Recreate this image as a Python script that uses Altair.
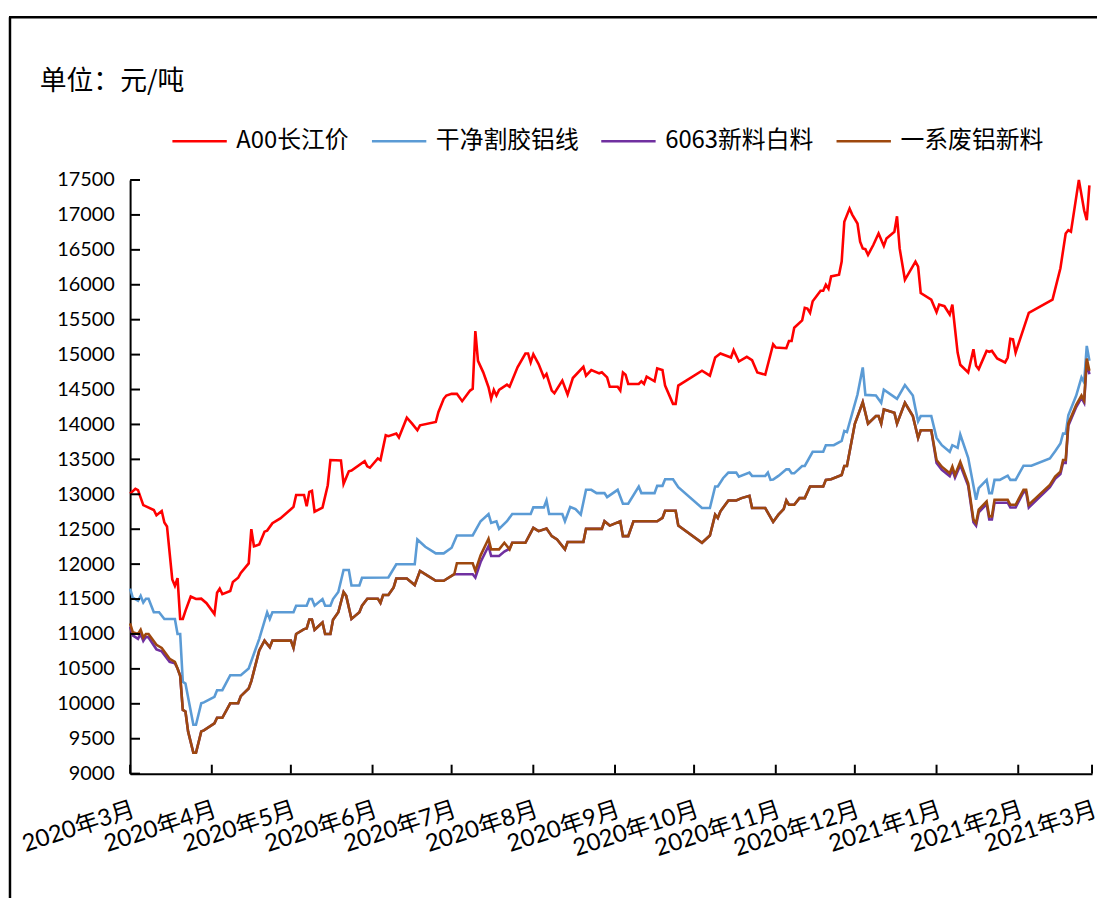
import altair as alt
import pandas as pd

BASE = pd.Timestamp("2020-03-01")  # day offsets below are counted from this date

series_names = ["A00长江价", "干净割胶铝线", "6063新料白料", "一系废铝新料"]
series_colors = ["#FF0000", "#5B9BD5", "#7030A0", "#9E480E"]

red_days = [0, 2, 3, 5, 9, 10, 12, 13, 14, 16, 17, 18, 19, 20, 21, 23, 25, 27, 29, 32, 33, 34, 35, 38, 39, 41, 42,
            45, 46, 47, 49, 51, 52, 54, 57, 61, 62, 63, 66, 67, 68, 69, 70, 73, 75, 76, 80, 81, 83, 84, 89, 90, 91,
            94, 95, 97, 98, 101, 102, 105, 107, 109, 110, 116, 117, 119, 120, 122, 124, 126, 129, 130, 131, 132,
            134, 136, 137, 138, 139, 140, 143, 144, 147, 150, 151, 152, 153, 155, 157, 158, 160, 161, 164, 166,
            168, 172, 173, 175, 178, 179, 181, 182, 185, 186, 187, 188, 189, 193, 194, 195, 196, 199, 200, 202,
            203, 206, 207, 208, 217, 220, 222, 224, 228, 229, 231, 234, 236, 238, 241, 244, 245, 249, 250, 251,
            252, 255, 256, 257, 258, 259, 262, 263, 264, 265, 266, 269, 270, 271, 273, 274, 276, 277, 278, 279,
            280, 282, 284, 286, 287, 290, 291, 292, 294, 298, 299, 300, 304, 306, 307, 309, 311, 312, 314, 315,
            318, 320, 321, 322, 325, 326, 327, 329, 332, 333, 334, 335, 336, 341, 350, 353, 355, 356, 357, 360,
            362, 363, 364]
red_vals = [13010, 13080, 13060, 12845, 12775, 12700, 12760, 12595, 12540, 11780, 11690, 11800, 11215, 11215, 11330,
            11535, 11500, 11505, 11440, 11285, 11590, 11650, 11570, 11615, 11745, 11805, 11875,
            12010, 12500, 12255, 12280, 12465, 12480, 12585, 12655, 12785, 12820, 12990, 12990, 12830, 13035, 13050,
            12750, 12810, 13130, 13490, 13485, 13150, 13330, 13340, 13475, 13400, 13380,
            13514, 13490, 13846, 13832, 13870, 13813, 14097, 14012, 13917, 13988, 14035, 14178, 14367, 14414, 14438,
            14438, 14333, 14485, 14510, 15338, 14911,
            14746, 14533, 14367, 14494, 14414, 14494, 14570, 14540, 14817, 15016, 15016, 14888, 15006, 14864, 14675,
            14722, 14485, 14447, 14627, 14428,
            14665, 14826, 14698, 14779, 14732, 14746, 14674, 14540, 14540, 14485, 14745, 14712, 14580, 14580, 14618,
            14580, 14684, 14618, 14802, 14779,
            14556, 14295, 14295, 14556, 14769, 14698, 14958, 15015, 14958, 15063, 14901, 14968, 14920, 14745, 14712,
            15148, 15101, 15091, 15195, 15195,
            15385, 15489, 15669, 15660, 15598, 15764, 15915, 15915, 16000, 15943, 16119, 16143, 16332, 16901, 17090,
            17005, 16877, 16616, 16521, 16510,
            16427, 16569, 16735, 16555, 16664, 16758, 16981, 16521, 16071, 16332, 16261, 15882, 15787, 15607, 15716,
            15693, 15574, 15716, 15029, 14854,
            14745, 15076, 14840, 14792, 15053, 15040, 15053, 14944, 14887, 14958, 15228, 15220, 15029, 15598, 15787,
            16237, 16735, 16782, 16760, 17502,
            17066, 16924, 17422]

blue_days = [0, 1, 3, 4, 5, 6, 7, 9, 11, 13, 17, 18, 19, 20, 21, 24, 25, 27, 28, 32, 33, 35, 38, 42, 45, 49, 52, 53,
             54, 62, 63, 67, 68, 69, 70, 73, 74, 76, 77, 79, 81, 83, 84, 87, 88, 98, 101, 108, 109, 112, 116, 119,
             122, 124, 130, 133, 136, 137, 139, 140, 143, 145, 152, 153, 157, 158, 159, 164, 165, 167, 169, 171,
             173, 175, 177, 180, 181, 185, 187, 189, 193, 194, 199, 200, 202, 203, 206, 208, 217, 220, 222, 223,
             225, 227, 230, 231, 235, 236, 241, 242, 243, 244, 246, 249, 250, 251, 252, 255, 256, 259, 263, 264,
             267, 270, 271, 272, 276, 278, 279, 283, 285, 286, 291, 294, 297, 298, 299, 300, 304, 306, 308, 311,
             312, 314, 315, 318, 321, 322, 325, 326, 327, 328, 330, 333, 334, 336, 339, 342, 349, 351, 353, 354,
             355, 356, 359, 361, 362, 363, 364]
blue_vals = [11650, 11520, 11475, 11545, 11450, 11505, 11505, 11310, 11310, 11215, 11215, 11000, 11000, 10315, 10290,
             9700, 9700, 10007, 10020, 10100, 10195, 10195, 10410, 10410, 10505, 10930, 11310, 11215,
             11310, 11310, 11405, 11405, 11500, 11500, 11405, 11500, 11405, 11405, 11500, 11600, 11915, 11915, 11695,
             11695, 11805, 11808, 11998, 11998, 12353, 12249, 12154, 12154,
             12235, 12410, 12410, 12614, 12718, 12590, 12614, 12505, 12614, 12718, 12718, 12813, 12813, 12912, 12718,
             12718, 12614, 12818, 12789, 12708,
             13064, 13064, 13017, 13017, 12960, 13064, 12865, 12865, 13111, 13017, 13017, 13121, 13121, 13215, 13215,
             13102, 12803, 12803, 13111, 13111,
             13230, 13310, 13310, 13253, 13310, 13263, 13263, 13310, 13206, 13210, 13263, 13357, 13357, 13300, 13300,
             13405, 13405, 13608, 13608, 13703,
             13703, 13765, 13907, 13892, 14428, 14816, 14423, 14414, 14310, 14499, 14367, 14565, 14414, 14225, 14044,
             14120, 14120, 13807, 13703, 13608,
             13703, 13665, 13855, 13523, 12921, 13087, 13206, 13017, 13017, 13206, 13206, 13267, 13206, 13206, 13409,
             13409, 13513, 13617, 13727, 13868,
             13868, 14130, 14414, 14674, 14603, 15124, 14911]

brown_days = [0, 1, 3, 4, 5, 6, 7, 10, 12, 15, 17, 18, 19, 20, 21, 22, 24, 25, 27, 28, 32, 33, 35, 38, 41, 42, 45,
              46, 49, 51, 53, 54, 61, 62, 63, 66, 67, 68, 69, 70, 73, 74, 76, 77, 79, 81, 82, 84, 87, 88, 90, 94,
              95, 96, 98, 100, 101, 105, 108, 110, 113, 116, 119, 123, 124, 130, 131, 133, 136, 137, 140, 142, 144,
              145, 150, 153, 155, 158, 160, 162, 165, 166, 172, 173, 179, 180, 182, 186, 187, 189, 191, 200, 202,
              203, 207, 208, 217, 220, 222, 223, 224, 227, 230, 232, 235, 236, 241, 244, 246, 248, 249, 250, 252,
              254, 256, 258, 263, 264, 266, 270, 271, 272, 275, 278, 280, 283, 284, 285, 286, 290, 291, 294, 297,
              299, 300, 304, 306, 308, 311, 312, 313, 315, 318, 320, 321, 322, 325, 326, 327, 328, 333, 334, 336,
              339, 340, 341, 349, 351, 353, 354, 355, 356, 359, 361, 362, 363, 364]
brown_vals = [11150, 11025, 11000, 11060, 10950, 11000, 11000, 10845, 10800, 10645, 10600, 10505, 10400, 9913, 9890,
              9605, 9298, 9298, 9605, 9620, 9720, 9800, 9800, 10007, 10007, 10110, 10220,
              10325, 10765, 10905, 10810, 10905, 10905, 10800, 11000, 11070, 11080, 11205, 11205, 11060, 11165, 11000,
              11000, 11205, 11310, 11600, 11545, 11215, 11310, 11405, 11505, 11505,
              11444, 11558, 11558, 11667, 11794, 11794, 11700, 11904, 11832, 11761, 11761, 11856, 12012, 12012, 11904,
              12126, 12363, 12211, 12211, 12306, 12211,
              12306, 12306, 12519, 12472, 12510, 12401, 12353, 12211, 12316, 12316, 12505, 12505, 12614, 12552, 12614,
              12401, 12401, 12614, 12614, 12661,
              12765, 12765, 12552, 12306, 12410, 12708, 12661, 12756, 12912, 12912, 12945, 12978, 12803, 12803, 12604,
              12708, 12789, 12912, 12850, 12850,
              12945, 12945, 13111, 13111, 13206, 13215, 13277, 13405, 13405, 14010, 14318, 14011, 14120, 14120, 14011,
              14215, 14168, 14011, 14310, 14120,
              13807, 13916, 13916, 13490, 13395, 13300, 13395, 13277, 13466, 13158, 12637, 12590, 12779, 12897, 12684,
              12684, 12921, 12921, 12850, 12850,
              13063, 13063, 12850, 13134, 13253, 13324, 13490, 13490, 14011, 14280, 14414, 14343, 14944, 14770]

purple_days = brown_days
purple_vals = [11100, 10980, 10930, 11000, 10900, 10960, 10950, 10780, 10750, 10600, 10580, 10505, 10400, 9913, 9890,
               9605, 9298, 9298, 9605, 9620, 9720, 9800, 9800, 10007, 10007, 10110, 10220,
               10325, 10765, 10905, 10810, 10905, 10905, 10800, 11000, 11070, 11080, 11205, 11205, 11060, 11165, 11000,
               11000, 11205, 11310, 11600, 11545, 11215, 11310, 11405, 11505, 11505,
               11444, 11558, 11558, 11667, 11794, 11794, 11700, 11904, 11832, 11761, 11761, 11856, 11856, 11856, 11808,
               12030, 12259, 12116, 12116, 12180, 12221,
               12306, 12306, 12519, 12472, 12510, 12401, 12353, 12211, 12316, 12316, 12505, 12505, 12614, 12552, 12614,
               12401, 12401, 12614, 12614, 12661,
               12765, 12765, 12552, 12306, 12410, 12708, 12661, 12756, 12912, 12912, 12945, 12978, 12803, 12803, 12604,
               12708, 12789, 12912, 12850, 12850,
               12945, 12945, 13111, 13111, 13206, 13215, 13277, 13405, 13405, 14010, 14318, 14011, 14120, 14120, 14011,
               14215, 14168, 14011, 14310, 14120,
               13807, 13916, 13916, 13450, 13350, 13260, 13350, 13240, 13420, 13120, 12600, 12550, 12740, 12860, 12640,
               12640, 12880, 12880, 12810, 12810,
               13030, 13030, 12810, 13100, 13220, 13290, 13450, 13450, 13980, 14250, 14380, 14310, 14900, 14720]

y_ticks = list(range(9000, 17501, 500))
month_ticks = ["2020-03-01", "2020-04-01", "2020-05-01", "2020-06-01", "2020-07-01", "2020-08-01", "2020-09-01",
               "2020-10-01", "2020-11-01", "2020-12-01", "2021-01-01", "2021-02-01", "2021-03-01"]

rows = []
for name, days, vals in zip(series_names,
                            [red_days, blue_days, purple_days, brown_days],
                            [red_vals, blue_vals, purple_vals, brown_vals]):
    for d, v in zip(days, vals):
        rows.append({"date": BASE + pd.Timedelta(days=d), "value": v, "series": name})
df = pd.DataFrame(rows)

PAD_L, PAD_T = 123, 170
W, H = 969, 598
NUM_FONT = "Lato, 'Noto Sans CJK SC'"
CJK_FONT = "'Noto Sans CJK SC'"

month_dt = [alt.DateTime(year=int(m[:4]), month=int(m[5:7]), date=1) for m in month_ticks]

x_axis = alt.Axis(values=month_dt, format="%Y年%-m月", labelAngle=342, labelAlign="right",
                  labelBaseline="top", labelPadding=24, ticks=False, tickSize=0, grid=False,
                  title=None, labelFont=NUM_FONT, labelFontSize=24, labelColor="#000000",
                  labelOverlap=False, labelFlush=False, labelBound=False,
                  domainColor="#000000", domainWidth=2)
y_axis = alt.Axis(values=y_ticks, format="d", ticks=False, tickSize=0, grid=False, title=None,
                  labelFont=NUM_FONT, labelFontSize=20, labelColor="#000000", labelPadding=16,
                  labelOverlap=False, domainColor="#000000", domainWidth=2)
x_scale = alt.Scale(domain=[month_dt[0], month_dt[-1]])
y_scale = alt.Scale(domain=[9000, 17500], nice=False, zero=False)

x_enc = alt.X("date:T", scale=x_scale, axis=x_axis)
y_enc = alt.Y("value:Q", scale=y_scale, axis=y_axis)
color_enc = alt.Color("series:N",
                      scale=alt.Scale(domain=series_names, range=series_colors),
                      legend=alt.Legend(orient="none", legendX=172 - PAD_L - 8, legendY=-68,
                                        direction="horizontal",
                                        symbolType="stroke", symbolSize=3000, symbolStrokeWidth=2.6,
                                        labelFont=CJK_FONT, labelFontSize=24, labelColor="#000000",
                                        labelOffset=8, columnPadding=17, padding=0, title=None,
                                        labelLimit=0))

line_layers = []
for name in series_names:
    line_layers.append(
        alt.Chart(df).transform_filter(alt.datum.series == name)
        .mark_line(strokeWidth=2.6)
        .encode(x=x_enc, y=y_enc, color=color_enc)
    )

ytick_df = pd.DataFrame({"value": y_ticks})
ytick_layer = alt.Chart(ytick_df).mark_rule(color="#000000", strokeWidth=2).encode(
    y=y_enc, x=alt.value(0), x2=alt.value(10))

xtick_df = pd.DataFrame({"date": [pd.Timestamp(m) for m in month_ticks]})
xtick_layer = alt.Chart(xtick_df).mark_rule(color="#000000", strokeWidth=2).encode(
    x=x_enc, y=alt.value(H - 9), y2=alt.value(H))

one = pd.DataFrame({"k": [0]})
frame_left = alt.Chart(one).mark_rule(color="#000000", strokeWidth=2.5).encode(
    x=alt.value(10 - 8 - PAD_L), y=alt.value(14 - 8 - PAD_T), y2=alt.value(H + 140))
frame_top = alt.Chart(one).mark_rule(color="#000000", strokeWidth=2.5).encode(
    y=alt.value(14 - 8 - PAD_T), x=alt.value(9 - 8 - PAD_L), x2=alt.value(W + 20))
unit_text = alt.Chart(one).mark_text(align="left", baseline="middle", font=CJK_FONT, fontSize=27,
                                     color="#000000").encode(
    x=alt.value(40 - 8 - PAD_L), y=alt.value(79 - 8 - PAD_T), text=alt.value("单位：元/吨"))

chart = alt.layer(*line_layers, ytick_layer, xtick_layer, frame_left, frame_top, unit_text).properties(
    width=W, height=H,
    autosize=alt.AutoSizeParams(type="none"),
    padding={"left": PAD_L, "top": PAD_T, "right": 5, "bottom": 122},
    background="#FFFFFF",
).configure_view(strokeWidth=0)

chart.save("out.html", embed_options={"renderer": "svg", "actions": False})
